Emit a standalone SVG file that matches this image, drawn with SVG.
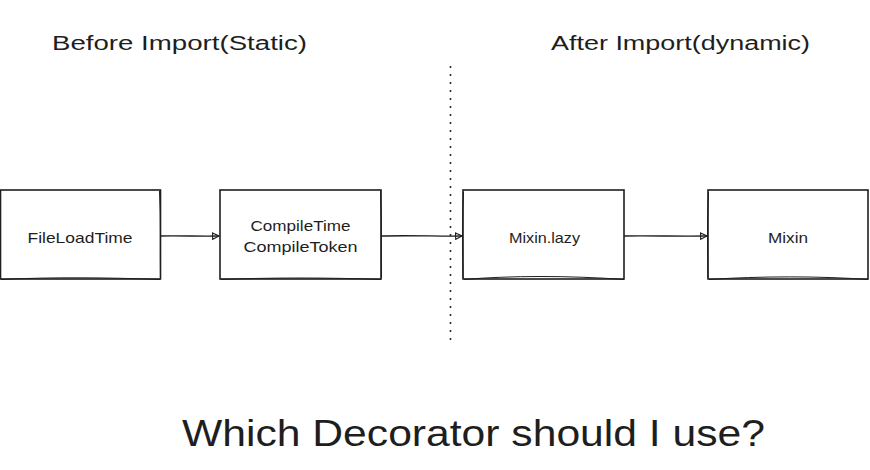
<svg xmlns="http://www.w3.org/2000/svg" width="870" height="470" viewBox="0 0 870 470">
<style>
.box{fill:#ffffff;stroke:#1e1e1e;stroke-width:1.6;}
.sk{fill:none;stroke:#1e1e1e;stroke-width:1;}
.lbl{font-family:"Liberation Sans",Arial,sans-serif;font-size:15px;fill:#1e1e1e;text-anchor:middle;dominant-baseline:central;}
.head{font-family:"Liberation Sans",Arial,sans-serif;font-size:20px;fill:#1e1e1e;}
.big{font-family:"Liberation Sans",Arial,sans-serif;font-size:36px;fill:#1e1e1e;}
.conn{fill:none;stroke:#1e1e1e;stroke-width:1.4;}
</style>
<defs>
<marker id="ah" viewBox="0 0 10 10" refX="9" refY="5" markerWidth="8" markerHeight="8" markerUnits="userSpaceOnUse" orient="auto">
<path d="M1,1 L9,5 L1,9 Z" fill="none" stroke="#1e1e1e" stroke-width="1.4"/>
</marker>
</defs>
<rect width="870" height="470" fill="#ffffff"/>
<text class="head" x="52" y="50" textLength="255" lengthAdjust="spacingAndGlyphs">Before Import(Static)</text>
<text class="head" x="551" y="50" textLength="259" lengthAdjust="spacingAndGlyphs">After Import(dynamic)</text>
<line x1="450.5" y1="67" x2="450.5" y2="341" stroke="#1e1e1e" stroke-width="2" stroke-linecap="round" stroke-dasharray="0 8"/>
<g id="connectors">
<path class="conn" d="M160,236 C180,235.5 200,236.5 219,236" marker-end="url(#ah)"/>
<path class="conn" d="M381,236 C410,235 440,236.5 462,236" marker-end="url(#ah)"/>
<path class="conn" d="M624,236 C650,235.5 680,236.5 707,236" marker-end="url(#ah)"/>
</g>
<g id="node-fileloadtime">
<rect class="box" x="0.5" y="190" width="160" height="89"/>
<path class="sk" d="M1,279.5 C50,277 110,277.5 160,279.5 M159.5,191 C161,220 160,250 160.5,278"/>
<text class="lbl" x="80" y="237" textLength="105" lengthAdjust="spacingAndGlyphs">FileLoadTime</text>
</g>
<g id="node-compiletime">
<rect class="box" x="220" y="190" width="161" height="89"/>
<path class="sk" d="M221,279.5 C270,277.5 330,277.5 381,279.5 M380.5,191 C382,220 381,250 381.5,278"/>
<text class="lbl" x="300.5" y="225" textLength="100" lengthAdjust="spacingAndGlyphs">CompileTime</text>
<text class="lbl" x="300.5" y="246" textLength="114" lengthAdjust="spacingAndGlyphs">CompileToken</text>
</g>
<g id="node-mixinlazy">
<rect class="box" x="463" y="190" width="161" height="89"/>
<path class="sk" d="M464,279.5 C510,275.5 570,275.5 624,279.5 M463.5,192 C462,220 462.5,250 463,278"/>
<text class="lbl" x="544.5" y="237" textLength="71" lengthAdjust="spacingAndGlyphs">Mixin.lazy</text>
</g>
<g id="node-mixin">
<rect class="box" x="708" y="190" width="160" height="89"/>
<path class="sk" d="M709,279.5 C760,276 820,276 868,279.5 M708.5,192 C707,220 707.5,250 708,278"/>
<text class="lbl" x="788" y="237" textLength="40" lengthAdjust="spacingAndGlyphs">Mixin</text>
</g>
<text class="big" x="182" y="446" textLength="583" lengthAdjust="spacingAndGlyphs">Which Decorator should I use?</text>
</svg>
